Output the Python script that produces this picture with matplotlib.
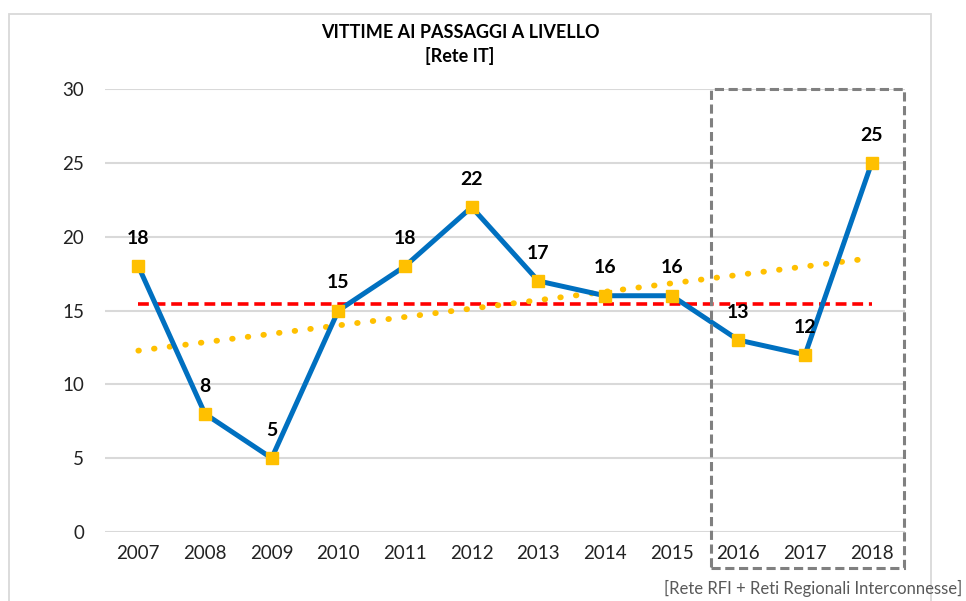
import numpy as np
import matplotlib.pyplot as plt
from matplotlib.patches import Rectangle

years = ['2007', '2008', '2009', '2010', '2011', '2012', '2013', '2014', '2015', '2016', '2017', '2018']
victims = [18, 8, 5, 15, 18, 22, 17, 16, 16, 13, 12, 25]

plt.rcParams['font.family'] = ['Lato', 'DejaVu Sans']

fig = plt.figure(figsize=(9.66, 6.01), dpi=100)
ax = fig.add_axes([0.1087, 0.1148, 0.8282, 0.7371])

x = np.arange(len(years))
y = np.array(victims)

# media e linea di tendenza
mean = y.mean()
ax.plot([x[0], x[-1]], [mean, mean], color='#FF0000', linestyle=(0, (3, 1.6)), linewidth=2.6, zorder=2)
k, q = np.polyfit(x, y, 1)
ax.plot(x, k * x + q, color='#FFC000', linestyle=(0, (0.1, 2.6)), linewidth=4.2,
        dash_capstyle='round', zorder=2)

ax.plot(x, y, color='#0070C0', linewidth=3.6, marker='s', markersize=9,
        markerfacecolor='#FFC000', markeredgecolor='#FFC000', zorder=3)

for xi, yi in zip(x, y):
    ax.annotate(str(yi), (xi, yi), xytext=(0, 20), textcoords='offset points',
                ha='center', va='center', fontsize=14, fontweight='bold', color='black')

ax.set_xlim(-0.5, len(years) - 0.5)
ax.set_ylim(0, 30)
ax.set_yticks(range(0, 31, 5))
ax.set_xticks(x)
ax.set_xticklabels(years)
ax.tick_params(axis='both', length=0, labelsize=13.5, colors='#222222')
ax.tick_params(axis='y', pad=15)
ax.tick_params(axis='x', pad=9)
ax.grid(axis='y', color='#D9D9D9', linewidth=1.5)
ax.set_axisbelow(True)
for s in ax.spines.values():
    s.set_visible(False)

# riquadro tratteggiato 2016-2018
box = Rectangle((8.59, -2.44), 2.89, 32.44, fill=False, edgecolor='#808080',
                linestyle=(0, (3, 1.5)), linewidth=2.2, clip_on=False, zorder=4)
ax.add_patch(box)

# cornice grafico
fig.patches.append(Rectangle((9 / 966, -0.01), 922 / 966, 1 - 14 / 601 + 0.01,
                             transform=fig.transFigure, fill=False,
                             edgecolor='#D9D9D9', linewidth=1.3))

fig.text(460 / 966, 1 - 33 / 601, 'VITTIME AI PASSAGGI A LIVELLO', ha='center', va='center',
         fontsize=13, fontweight='bold')
fig.text(460 / 966, 1 - 56 / 601, '[Rete IT]', ha='center', va='center',
         fontsize=13, fontweight='bold')
fig.text(962 / 966, 1 - 588 / 601, '[Rete RFI + Reti Regionali Interconnesse]', ha='right',
         va='center', fontsize=12, color='#595959')

fig.savefig('out.png', dpi=100)
